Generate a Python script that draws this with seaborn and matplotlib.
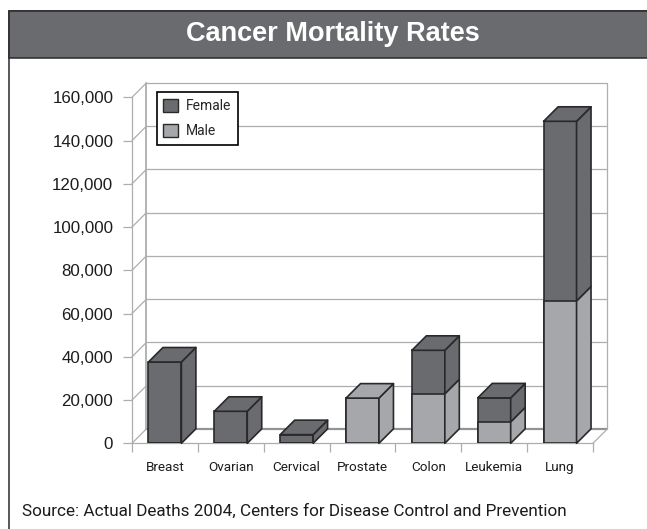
# Cancer mortality chart, fake 3D stacked bars on a seaborn barplot
import numpy as np
import matplotlib
matplotlib.use("Agg")
import matplotlib.pyplot as plt
from matplotlib.patches import Polygon, Rectangle, Patch
from matplotlib.ticker import StrMethodFormatter
import seaborn as sns

categories = ["Breast", "Ovarian", "Cervical", "Prostate", "Colon", "Leukemia", "Lung"]
female = [37600, 14800, 4000, 0, 20100, 11100, 83100]
male = [0, 0, 0, 20900, 22900, 9900, 65800]
y_ticks = [0, 20000, 40000, 60000, 80000, 100000, 120000, 140000, 160000]

title = "Cancer Mortality Rates"
source = "Source: Actual Deaths 2004, Centers for Disease Control and Prevention"

dark = "#6a6b6e"
light = "#a6a7aa"
edge = "#29292b"
grid = "#adaeb0"
ink = "#1c1c1e"

W, H = 647, 529

sns.set_style("white")
plt.rcParams["font.family"] = ["Liberation Sans", "DejaVu Sans"]

fig = plt.figure(figsize=(W / 100, H / 100), dpi=100)

# frame and header band run off the right and bottom of the picture
def fig_rect(x0, y0, x1, y1, **kw):
    fig.add_artist(Rectangle((x0 / W, 1 - y1 / H), (x1 - x0) / W, (y1 - y0) / H,
                             transform=fig.transFigure, zorder=-1, **kw))

fig_rect(8.5, 10.5, 660, 540, facecolor="white", edgecolor=edge, linewidth=1.1)
fig_rect(8.5, 10.5, 660, 58, facecolor=dark, edgecolor=edge, linewidth=1.1)
fig.text(333 / W, 1 - 34 / H, title, color="white", fontsize=19.5, fontweight="bold",
         ha="center", va="center")
fig.text(22 / W, 1 - 511 / H, source, color=ink, fontsize=12.3, family="Roboto", ha="left", va="center")

ax = fig.add_axes([132 / W, 1 - 443.3 / H, (593 - 132) / W, 346 / H])
ax.patch.set_alpha(0)

total = np.array(female) + np.array(male)
sns.barplot(x=categories, y=total, color=dark, saturation=1, width=0.5,
            edgecolor=edge, linewidth=1.2, ax=ax, zorder=3)
n = len(ax.patches)
sns.barplot(x=categories, y=male, color=light, saturation=1, width=0.5,
            edgecolor=edge, linewidth=1.2, ax=ax, zorder=3)

ax.set_xlim(-0.5, 6.5)
ax.set_ylim(0, 160000)
depth_x = 0.22
depth_y = 6700

# back wall, floor and left side wall
for t in y_ticks:
    ax.plot([-0.5, -0.5 + depth_x], [t, t + depth_y], color=grid, lw=0.9, clip_on=False, zorder=1)
    ax.plot([-0.5 + depth_x, 6.5 + depth_x], [t + depth_y, t + depth_y],
            color="#929395" if t == 0 else grid, lw=1.6 if t == 0 else 0.9,
            clip_on=False, zorder=1)
ax.plot([-0.5 + depth_x] * 2, [depth_y, 160000 + depth_y], color=grid, lw=1.3, clip_on=False, zorder=1)
ax.plot([6.5 + depth_x] * 2, [depth_y, 160000 + depth_y], color=grid, lw=0.9, clip_on=False, zorder=1)
ax.plot([6.5, 6.5 + depth_x], [0, depth_y], color=grid, lw=0.9, clip_on=False, zorder=1)

# side and top faces, worked out from the bars seaborn drew
def face(points, color):
    ax.add_patch(Polygon(points, closed=True, facecolor=color, edgecolor=edge,
                         linewidth=1.2, clip_on=False, zorder=3, joinstyle="round"))

for bar, m in zip(ax.patches[:n], male):
    x0, x1, top = bar.get_x(), bar.get_x() + bar.get_width(), bar.get_height()
    if m > 0:
        face([(x1, 0), (x1 + depth_x, depth_y), (x1 + depth_x, m + depth_y), (x1, m)], light)
    if top > m:
        face([(x1, m), (x1 + depth_x, m + depth_y), (x1 + depth_x, top + depth_y), (x1, top)], dark)
    face([(x0, top), (x0 + depth_x, top + depth_y), (x1 + depth_x, top + depth_y), (x1, top)],
         dark if top > m else light)

ax.set_yticks(y_ticks)
ax.yaxis.set_major_formatter(StrMethodFormatter("{x:,.0f}"))
ax.tick_params(axis="y", length=6.5, width=0.9, color=grid, labelsize=12.2, labelcolor=ink, pad=7, left=True)
ax.set_xticks(np.arange(-0.5, 7), minor=True)
ax.tick_params(axis="x", which="minor", length=6.5, width=0.9, color=grid, bottom=True)
ax.tick_params(axis="x", which="major", length=0, labelsize=9.7, labelcolor=ink, pad=12.5)
for lab in ax.get_xticklabels():
    lab.set_family("Roboto")
sns.despine(ax=ax, top=True, right=True)
for side in ["left", "bottom"]:
    ax.spines[side].set_color(grid)
    ax.spines[side].set_linewidth(0.9)

handles = [Patch(facecolor=dark, edgecolor=edge), Patch(facecolor=light, edgecolor=edge)]
leg = ax.legend(handles, ["Female", "Male"], loc="upper left",
                bbox_to_anchor=((156.5 - 132) / 461, (443.3 - 92) / 346),
                prop={"family": "Roboto", "size": 10}, frameon=True, fancybox=False, framealpha=1,
                edgecolor="black", handlelength=1.08, handleheight=1.08,
                handletextpad=0.5, labelspacing=0.75, borderpad=0.5, borderaxespad=0)
leg.get_frame().set_linewidth(1.2)
leg.set_zorder(6)

fig.savefig("out.png", dpi=100)
